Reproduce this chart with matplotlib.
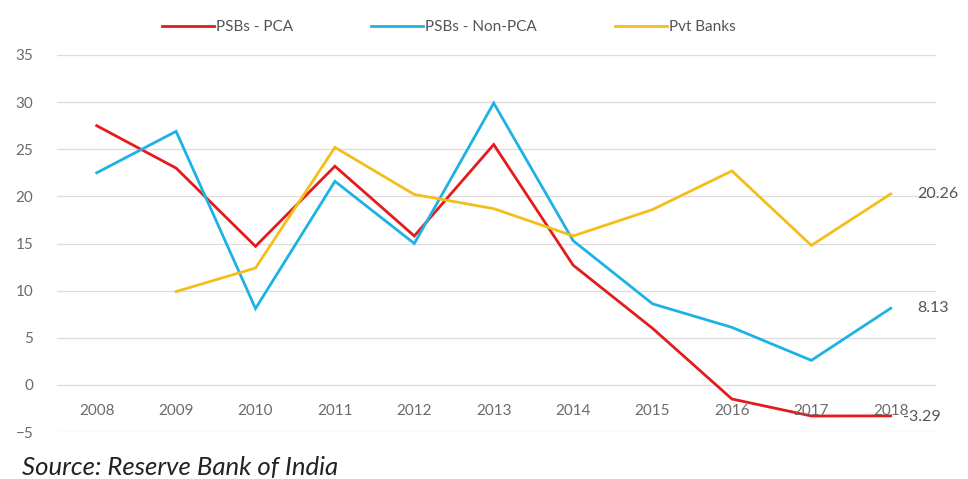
import numpy as np
import matplotlib.pyplot as plt

years = ["2008", "2009", "2010", "2011", "2012", "2013",
         "2014", "2015", "2016", "2017", "2018"]
psb_pca = [27.5, 23.0, 14.7, 23.2, 15.8, 25.5, 12.7, 6.0, -1.5, -3.3, -3.29]
psb_non_pca = [22.5, 26.9, 8.1, 21.6, 15.0, 29.9, 15.3, 8.6, 6.1, 2.6, 8.13]
pvt_banks = [np.nan, 9.9, 12.4, 25.2, 20.2, 18.7, 15.8, 18.6, 22.7, 14.8, 20.26]

series = [
    ("PSBs - PCA", psb_pca, "#e41a1c"),
    ("PSBs - Non-PCA", psb_non_pca, "#1eb1e4"),
    ("Pvt Banks", pvt_banks, "#f2bf1a"),
]

plt.rcParams['font.family'] = ['Lato', 'DejaVu Sans']

fig = plt.figure(figsize=(9.68, 4.79), dpi=100)
ax = fig.add_axes([57 / 968, 1 - 432 / 479, (936 - 57) / 968, (432 - 55) / 479])

x = np.arange(len(years))
for name, vals, col in series:
    ax.plot(x, vals, color=col, lw=2.0, label=name, solid_joinstyle='miter')

ax.set_xlim(-0.5, len(years) - 0.5 + 0.07)
ax.set_ylim(-5, 35)
ax.set_yticks(range(-5, 36, 5))
ax.grid(axis='y', color='#dcdcdc', lw=0.9)
ax.set_axisbelow(True)
ax.set_xticks([])
ax.tick_params(axis='y', length=0, pad=17, labelsize=11, labelcolor='#6b6b6b')
for s in ax.spines.values():
    s.set_visible(False)

# category labels sit just below the zero line
for xi, yr in zip(x, years):
    ax.text(xi, -2.75, yr, ha='center', va='center', fontsize=11, color='#6b6b6b')

# end-of-line value labels
ax.annotate(f"{pvt_banks[-1]:.2f}", (x[-1], pvt_banks[-1]), xytext=(19, 0),
            textcoords='offset points', va='center', fontsize=11.5, color='#555555',
            annotation_clip=False)
ax.annotate(f"{psb_non_pca[-1]:.2f}", (x[-1], psb_non_pca[-1]), xytext=(19, 0),
            textcoords='offset points', va='center', fontsize=11.5, color='#555555',
            annotation_clip=False)
ax.annotate(f"{psb_pca[-1]:.2f}", (x[-1], psb_pca[-1]), xytext=(9, -1),
            textcoords='offset points', va='center', fontsize=11.5, color='#555555',
            annotation_clip=False)

fig.legend(loc='center', bbox_to_anchor=(449 / 968, 1 - 27 / 479), ncol=3,
           frameon=False, fontsize=11, handlelength=3.4, handletextpad=0.15,
           columnspacing=5.1, labelcolor='#555555')

fig.text(22 / 968, 1 - 467 / 479, "Source: Reserve Bank of India", fontsize=18.5,
         style='italic', color='#222222', va='center')

fig.savefig("out.png", dpi=100)
